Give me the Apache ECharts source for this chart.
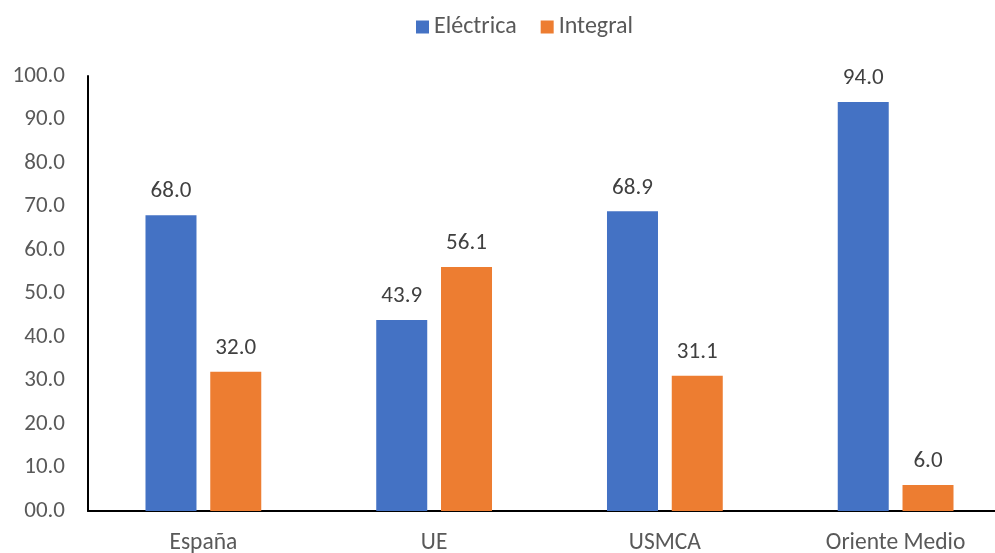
<!DOCTYPE html>
<html>
<head>
<meta charset="utf-8">
<script src="https://cdn.jsdelivr.net/npm/echarts@6/dist/echarts.min.js"></script>
<style>
  html, body { margin: 0; padding: 0; background: #fff; }
  #chart { width: 995px; height: 553px; }
</style>
</head>
<body>
<div id="chart"></div>
<script>
// Share of electric vs. integrated consumption by region
const categories = ['España', 'UE', 'USMCA', 'Oriente Medio'];
const electrica = [68.0, 43.9, 68.9, 94.0];
const integral = [32.0, 56.1, 31.1, 6.0];
const seriesNames = ['Eléctrica', 'Integral'];

const FONT = 'Carlito, "Open Sans", "Liberation Sans", sans-serif';
const TEXT = '#595959';

const chart = echarts.init(document.getElementById('chart'));

const labelStyle = {
  show: true,
  position: 'top',
  distance: 12,
  color: '#404040',
  fontFamily: FONT,
  fontSize: 23,
  formatter: p => p.value.toFixed(1)
};

chart.setOption({
  animation: false,
  textStyle: { fontFamily: FONT },
  legend: {
    data: seriesNames,
    top: 10,
    left: 411,
    itemWidth: 13,
    itemHeight: 13,
    itemGap: 24,
    icon: 'rect',
    textStyle: { color: TEXT, fontSize: 24, fontFamily: FONT, padding: [0, 0, 0, 0] }
  },
  // the plot area runs past the right edge of the canvas
  grid: { left: 88, width: 923, top: 76, height: 435, containLabel: false, outerBoundsMode: 'none' },
  xAxis: {
    type: 'category',
    data: categories,
    axisLine: { lineStyle: { color: '#000', width: 2 } },
    axisTick: { show: false },
    axisLabel: { color: TEXT, fontSize: 23.5, fontFamily: FONT, margin: 20 }
  },
  yAxis: {
    type: 'value',
    min: 0,
    max: 100,
    interval: 10,
    splitLine: { show: false },
    axisLine: { show: true, lineStyle: { color: '#000', width: 2 } },
    axisTick: { show: false },
    axisLabel: {
      color: TEXT,
      fontSize: 23,
      fontFamily: FONT,
      margin: 23,
      formatter: v => String(v.toFixed(1)).padStart(4, '0')
    }
  },
  series: [
    {
      name: seriesNames[0],
      type: 'bar',
      data: electrica,
      barWidth: 51,
      barGap: '27%',
      itemStyle: { color: '#4472C4' },
      label: labelStyle
    },
    {
      name: seriesNames[1],
      type: 'bar',
      data: integral,
      barWidth: 51,
      itemStyle: { color: '#ED7D31' },
      label: labelStyle
    }
  ]
});
</script>
</body>
</html>
